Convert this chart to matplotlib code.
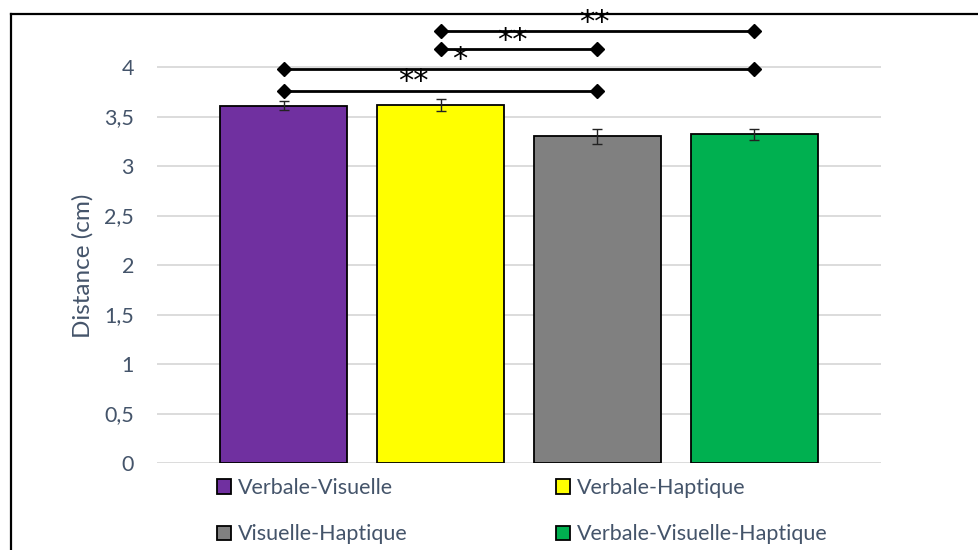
import matplotlib
matplotlib.use("Agg")
import matplotlib.pyplot as plt
from matplotlib.patches import Patch
from matplotlib.lines import Line2D

# data
conditions = ["Verbale-Visuelle", "Verbale-Haptique", "Visuelle-Haptique", "Verbale-Visuelle-Haptique"]
means = [3.61, 3.62, 3.30, 3.32]
errors = [0.045, 0.06, 0.075, 0.058]
colors = ["#7030A0", "#FFFF00", "#808080", "#00B050"]

# significance brackets: (left bar, right bar), height, stars, label x
pairs = [(0, 2), (0, 3), (1, 2), (1, 3)]
pair_heights = [3.76, 3.98, 4.18, 4.36]
pair_stars = ["**", "*", "**", "**"]
star_x = [0.83, 1.12, 1.46, 1.98]

yticks = [0, 0.5, 1, 1.5, 2, 2.5, 3, 3.5, 4]
ytick_labels = ["0", "0,5", "1", "1,5", "2", "2,5", "3", "3,5", "4"]

text_col = "#44546A"
plt.rcParams["font.family"] = ["Lato", "DejaVu Sans"]

W, H = 979, 550
fig = plt.figure(figsize=(W / 100, H / 100), dpi=100)
ax = fig.add_axes([157 / W, 1 - 463 / H, (881 - 157) / W, (463 - 17.5) / H])

x = list(range(len(conditions)))
ax.bar(x, means, width=0.81, color=colors, edgecolor="black", linewidth=1.3, zorder=3)
ax.errorbar(x, means, yerr=errors, fmt="none", ecolor="#222222", elinewidth=1,
            capsize=3.5, capthick=1, zorder=4)

for (a, b), h, s, sx in zip(pairs, pair_heights, pair_stars, star_x):
    ax.plot([a, b], [h, h], color="black", linewidth=2, marker="D", markersize=7,
            zorder=5, clip_on=False)
    # the asterisk glyph sits high in the em box, so a baseline on the line works
    ax.text(sx, h + 0.005, s, ha="center", va="baseline", fontsize=22,
            family="DejaVu Sans", color="black", zorder=6)

ax.set_xlim(-0.806, 3.806)
ax.set_ylim(0, 4.5)
ax.set_yticks(yticks)
ax.set_yticklabels(ytick_labels)
ax.set_xticks([])
ax.tick_params(axis="y", length=0, pad=16.5, labelsize=15.5, labelcolor=text_col)
for sp in ax.spines.values():
    sp.set_visible(False)
for t in yticks:
    ax.axhline(t, color="#D9D9D9", linewidth=1.3, zorder=1)
ax.set_ylabel("Distance (cm)", fontsize=17.5, color=text_col)
ax.yaxis.set_label_coords(-0.088, (463 - 266) / (463 - 17.5))

# two legend columns, placed separately
handles = [Patch(facecolor=c, edgecolor="black", linewidth=1.3) for c in colors]
leg_kw = dict(frameon=False, handlelength=0.65, handleheight=0.65, handletextpad=0.3,
              labelspacing=1.23, fontsize=15.5, labelcolor=text_col, borderpad=0,
              borderaxespad=0, loc="upper left")
fig.legend([handles[0], handles[2]], [conditions[0], conditions[2]],
           bbox_to_anchor=(217 / W, 1 - 478 / H), **leg_kw)
fig.legend([handles[1], handles[3]], [conditions[1], conditions[3]],
           bbox_to_anchor=(556 / W, 1 - 478 / H), **leg_kw)

# frame lines at top and left like the original screenshot
fig.add_artist(Line2D([10.5 / W, 1], [1 - 13.5 / H, 1 - 13.5 / H], color="black",
                      linewidth=1.6, transform=fig.transFigure))
fig.add_artist(Line2D([10.5 / W, 10.5 / W], [0, 1 - 13.5 / H], color="black",
                      linewidth=1.6, transform=fig.transFigure))

fig.savefig("out.png", dpi=100)
plt.close(fig)
